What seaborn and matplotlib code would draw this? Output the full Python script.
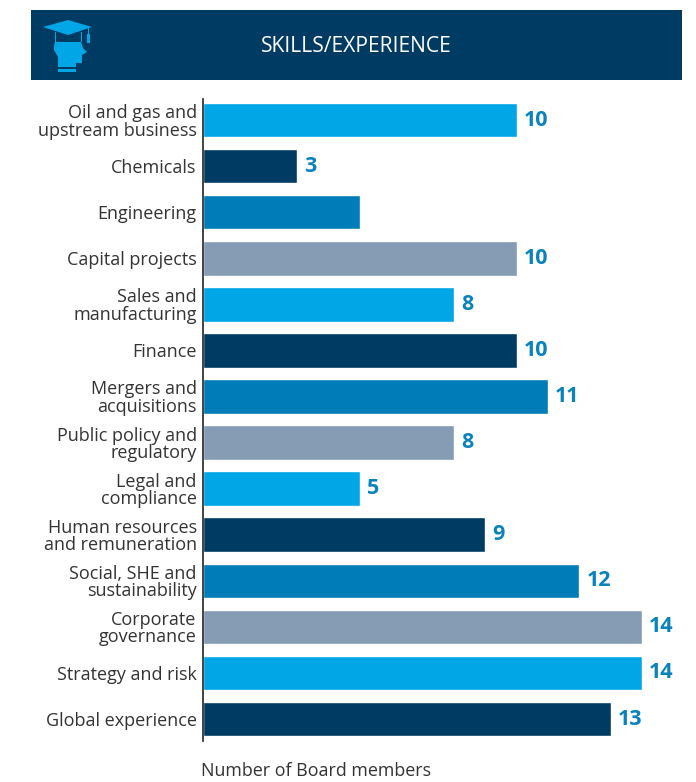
import matplotlib
matplotlib.use("Agg")
import matplotlib.pyplot as plt
import matplotlib.patches as mpatches
import pandas as pd
import seaborn as sns

skills = ["Oil and gas and\nupstream business", "Chemicals", "Engineering", "Capital projects",
          "Sales and\nmanufacturing", "Finance", "Mergers and\nacquisitions",
          "Public policy and\nregulatory", "Legal and\ncompliance",
          "Human resources\nand remuneration", "Social, SHE and\nsustainability",
          "Corporate\ngovernance", "Strategy and risk", "Global experience"]
members = [10, 3, 5, 10, 8, 10, 11, 8, 5, 9, 12, 14, 14, 13]
shown = ["10", "3", "", "10", "8", "10", "11", "8", "5", "9", "12", "14", "14", "13"]

navy = "#003B64"
sky = "#00A6E6"
mid = "#007DB8"
grey = "#859CB4"
colours = [sky, navy, mid, grey, sky, navy, mid, grey, sky, navy, mid, grey, sky, navy]

W, H = 696, 782
sns.set_theme(style="white")
plt.rcParams["font.family"] = ["Open Sans", "DejaVu Sans"]

fig = plt.figure(figsize=(W / 100, H / 100), dpi=100)
ax = fig.add_axes([203 / W, 1 - 741 / H, (696 - 203) / W, (741 - 99) / H])

df = pd.DataFrame({"skill": skills, "members": members})
sns.barplot(data=df, y="skill", x="members", hue="skill", palette=colours, legend=False,
            order=skills, width=0.75, saturation=1, ax=ax)

for bars, txt in zip(ax.containers, shown):
    ax.bar_label(bars, labels=[txt], padding=5, color="#0A82BC", fontsize=15.5, fontweight="bold")

ax.set_xlim(0, 493 / 31.37)
ax.set_ylim(13.477, -0.456)
ax.set_xticks([])
ax.set_xlabel("")
ax.set_ylabel("")
ax.tick_params(axis="y", length=0, pad=4.5, labelsize=13, labelcolor="#333333")
for lab in ax.get_yticklabels():
    lab.set_linespacing(0.97)
sns.despine(ax=ax, bottom=True)
ax.spines["left"].set_color("#222222")
ax.spines["left"].set_linewidth(1.2)

fig.text(201 / W, 1 - 771 / H, "Number of Board members", fontsize=12.9, color="#333333",
         ha="left", va="center")

# header band
bg = fig.add_axes([0, 0, 1, 1], zorder=-1)
bg.set_xlim(0, W)
bg.set_ylim(H, 0)
bg.axis("off")
bg.add_patch(mpatches.Rectangle((31, 10), 651, 70, color=navy, lw=0))
bg.text(356, 47, "SKILLS/EXPERIENCE", color="white", fontsize=15.2, ha="center", va="center")

# mortarboard and head icon
bg.add_patch(mpatches.Polygon([(43, 27), (68, 20), (92, 27), (68, 35)], color=sky, lw=0))
bg.add_patch(mpatches.Polygon([(55, 42), (81, 42), (83, 48), (87, 52), (82, 55), (82, 63),
                               (76, 63), (76, 67), (58, 67), (58, 57), (54, 50), (54, 46)],
                              color=sky, lw=0))
bg.add_patch(mpatches.Rectangle((58, 69), 18, 3, color=sky, lw=0))
bg.add_patch(mpatches.Rectangle((55, 32), 1, 10, color=sky, lw=0))
bg.add_patch(mpatches.Rectangle((81, 32), 1, 10, color=sky, lw=0))
bg.add_patch(mpatches.Rectangle((88, 28), 1, 6, color=sky, lw=0))
bg.add_patch(mpatches.Rectangle((87, 34), 3, 9, color=sky, lw=0))

fig.savefig("out.png", dpi=100)
